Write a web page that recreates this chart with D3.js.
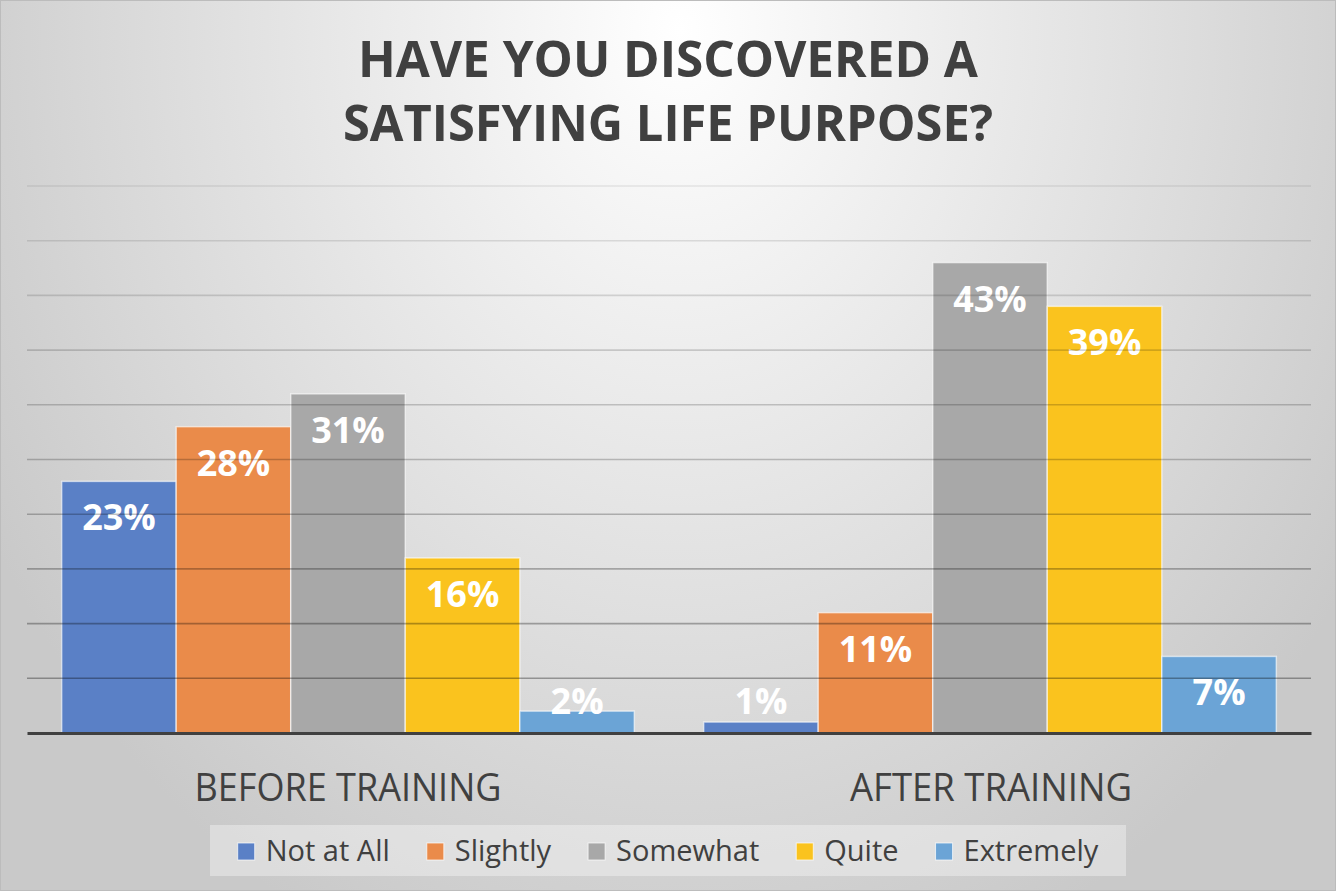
<!DOCTYPE html>
<html><head><meta charset="utf-8">
<script src="https://cdn.jsdelivr.net/npm/d3@7"></script>
<style>html,body{margin:0;padding:0;background:#fff;}svg{display:block;}</style>
</head><body>
<svg id="chart" width="1336" height="891"></svg>
<script>
const titleLines = ["HAVE YOU DISCOVERED A", "SATISFYING LIFE PURPOSE?"];
const categories = ["BEFORE TRAINING", "AFTER TRAINING"];
const seriesNames = ["Not at All", "Slightly", "Somewhat", "Quite", "Extremely"];
const seriesColors = ["#5a80c6", "#ea8b4a", "#a8a8a8", "#fac31e", "#6ba4d6"];
const beforeValues = [23, 28, 31, 16, 2];
const afterValues = [1, 11, 43, 39, 7];
const yTicks = [0, 5, 10, 15, 20, 25, 30, 35, 40, 45, 50];

const W = 1336, H = 891;
const svg = d3.select("#chart");
const defs = svg.append("defs");
const rg = defs.append("radialGradient").attr("id", "bg")
  .attr("gradientUnits", "userSpaceOnUse")
  .attr("cx", 0).attr("cy", 0).attr("r", 1000)
  .attr("gradientTransform", "translate(680,30) scale(0.8,1)");
rg.append("stop").attr("offset", 0).attr("stop-color", "#ffffff");
rg.append("stop").attr("offset", 0.35).attr("stop-color", "#ececec");
rg.append("stop").attr("offset", 1).attr("stop-color", "#c9c9c9");

svg.append("rect").attr("x", 0).attr("y", 0).attr("width", W).attr("height", H).attr("fill", "url(#bg)");
svg.append("rect").attr("x", 0.5).attr("y", 0.5).attr("width", W - 1).attr("height", H - 1)
  .attr("fill", "none").attr("stroke", "#bcbcbc").attr("stroke-width", 1);

const FONT = "'Open Sans', 'DejaVu Sans', sans-serif";
const TXT = "#404040";

// Title
const titleY = [77, 141];
const titleW = [620, 650];
titleLines.forEach((t, i) => {
  svg.append("text").attr("x", 668).attr("y", titleY[i])
    .attr("text-anchor", "middle").attr("font-family", FONT).attr("font-weight", 700)
    .attr("font-size", 50).attr("fill", TXT)
    .attr("textLength", titleW[i]).attr("lengthAdjust", "spacingAndGlyphs")
    .text(t);
});

// Scales
const plotL = 27, plotR = 1311, plotT = 186, plotB = 733;
const x0 = d3.scaleBand().domain(categories).range([plotL, plotR]).paddingInner(0).paddingOuter(0);
const bw = x0.bandwidth();
const gap = bw * 0.054;
const x1 = d3.scaleBand().domain(seriesNames).range([gap, bw - gap]).paddingInner(0);
const y = d3.scaleLinear().domain([0, 50]).range([plotB, plotT]);

const data = categories.map((c, ci) => ({
  cat: c,
  vals: seriesNames.map((s, si) => ({ s, si, v: ci === 0 ? beforeValues[si] : afterValues[si] }))
}));

// Bars
const groups = svg.append("g").selectAll("g").data(data).join("g")
  .attr("transform", d => `translate(${x0(d.cat)},0)`);
groups.selectAll("rect").data(d => d.vals).join("rect")
  .attr("x", d => x1(d.s)).attr("width", x1.bandwidth())
  .attr("y", d => y(d.v)).attr("height", d => y(0) - y(d.v))
  .attr("fill", d => seriesColors[d.si])
  .attr("stroke", "rgba(255,255,255,0.6)").attr("stroke-width", 1.5);

// Gridlines (drawn over bars, semi-transparent, darker at bottom)
const gridTicks = yTicks.filter(t => t > 0);
svg.append("g").selectAll("line").data(gridTicks).join("line")
  .attr("x1", plotL).attr("x2", plotR)
  .attr("y1", d => y(d)).attr("y2", d => y(d))
  .attr("stroke", "#000")
  .attr("stroke-opacity", d => 0.36 - (d / 50) * 0.28)
  .attr("stroke-width", 1.6);

// Axis baseline
const xAxis = d3.axisBottom(x0).tickSize(0).tickPadding(0).tickFormat("");
const axG = svg.append("g").attr("transform", `translate(0,${plotB})`).call(xAxis);
axG.select(".domain").attr("stroke", "#404040").attr("stroke-width", 3);

// Data labels
groups.selectAll("text.lbl").data(d => d.vals).join("text").attr("class", "lbl")
  .attr("x", d => x1(d.s) + x1.bandwidth() / 2)
  .attr("y", d => Math.min(y(d.v) + 49, 714))
  .attr("text-anchor", "middle").attr("font-family", FONT).attr("font-weight", 700)
  .attr("font-size", 36).attr("fill", "#ffffff")
  .text(d => d.v + "%");

// Category labels
const catW = [307, 282];
categories.forEach((c, i) => {
  svg.append("text").attr("x", x0(c) + bw / 2 + (i === 0 ? 0 : 1)).attr("y", 801)
    .attr("text-anchor", "middle").attr("font-family", FONT).attr("font-size", 38)
    .attr("fill", TXT).attr("textLength", catW[i]).attr("lengthAdjust", "spacingAndGlyphs")
    .text(c);
});

// Legend
const legBox = { x: 210, y: 825, w: 916, h: 51 };
svg.append("rect").attr("x", legBox.x).attr("y", legBox.y).attr("width", legBox.w).attr("height", legBox.h)
  .attr("fill", "#ffffff").attr("fill-opacity", 0.35);
const lg = svg.append("g");
const items = [];
let cx = 0;
seriesNames.forEach((s, i) => {
  const g = lg.append("g");
  g.append("rect").attr("x", 0).attr("y", -17).attr("width", 17).attr("height", 17)
    .attr("fill", seriesColors[i]).attr("stroke", "rgba(255,255,255,0.7)").attr("stroke-width", 1);
  const t = g.append("text").attr("x", 28).attr("y", 1).attr("font-family", FONT)
    .attr("font-size", 29).attr("fill", TXT).text(s);
  const tw = t.node().getComputedTextLength();
  items.push({ g, x: cx });
  cx += 28 + tw + (i < seriesNames.length - 1 ? 37 : 0);
});
const startX = legBox.x + (legBox.w - cx) / 2;
items.forEach(it => it.g.attr("transform", `translate(${startX + it.x},860)`));
</script>
</body></html>
